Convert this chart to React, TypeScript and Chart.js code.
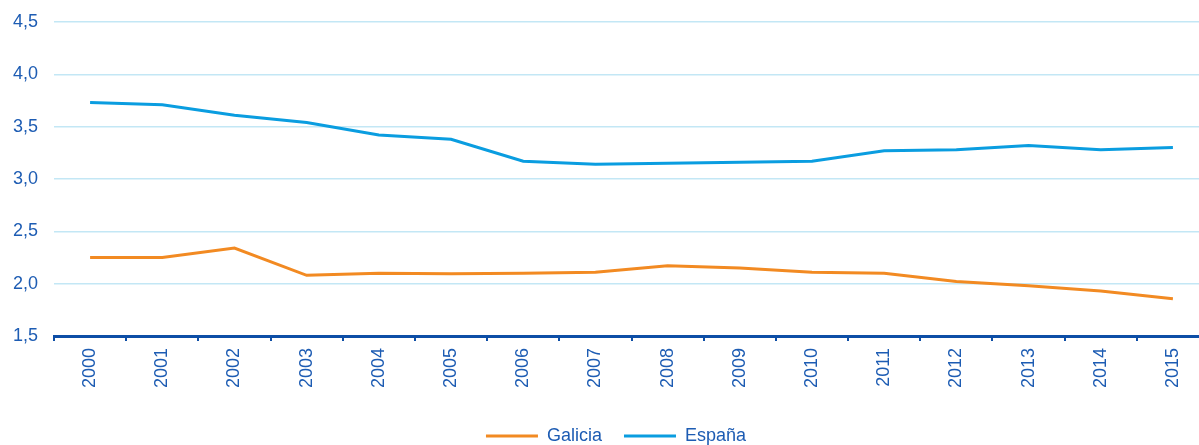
import React, { useEffect, useRef } from "react";
import { Chart, registerables } from "chart.js";

Chart.register(...registerables);

const years = ["2000","2001","2002","2003","2004","2005","2006","2007","2008","2009","2010","2011","2012","2013","2014","2015"];
const galicia = [2.25, 2.25, 2.34, 2.08, 2.10, 2.095, 2.10, 2.11, 2.17, 2.15, 2.11, 2.10, 2.02, 1.98, 1.93, 1.855];
const espana = [3.73, 3.71, 3.61, 3.54, 3.42, 3.38, 3.17, 3.14, 3.15, 3.16, 3.17, 3.27, 3.28, 3.32, 3.28, 3.30];
const yTicks = [1.5, 2.0, 2.5, 3.0, 3.5, 4.0, 4.5];

const TEXT = "#1d5cb3";
const AXIS = "#0d4ea6";
const GRID = "#c3e7f5";
const ORANGE = "#f28a22";
const BLUE = "#0a9de0";
const FONT = "'Liberation Sans', Arial, sans-serif";

export default function App() {
  const ref = useRef<HTMLCanvasElement | null>(null);
  useEffect(() => {
    if (!ref.current) return;
    const chart = new Chart(ref.current, {
      type: "line",
      data: {
        labels: years,
        datasets: [
          { label: "Galicia", data: galicia, borderColor: ORANGE, backgroundColor: ORANGE, borderWidth: 3, pointRadius: 0, tension: 0 },
          { label: "España", data: espana, borderColor: BLUE, backgroundColor: BLUE, borderWidth: 3, pointRadius: 0, tension: 0 },
        ],
      },
      options: {
        animation: false,
        responsive: true,
        maintainAspectRatio: false,
        layout: { padding: { top: 22, left: 0, right: 0, bottom: 0 } },
        plugins: {
          tooltip: { enabled: false },
          legend: {
            position: "bottom",
            labels: {
              usePointStyle: true,
              pointStyle: "line",
              pointStyleWidth: 52,
              color: TEXT,
              font: { family: FONT, size: 18 },
              padding: 22,
            },
          },
        },
        scales: {
          x: {
            type: "category",
            offset: true,
            grid: { display: true, drawOnChartArea: false, drawTicks: true, tickLength: 5, color: AXIS, lineWidth: 2, offset: true },
            border: { display: true, color: AXIS, width: 3 },
            ticks: { color: TEXT, font: { family: FONT, size: 18 }, minRotation: 90, maxRotation: 90, autoSkip: false, padding: 7 },
            afterFit: (s: any) => { s.height = 69; },
          },
          y: {
            type: "linear",
            min: 1.5,
            max: 4.5,
            afterBuildTicks: (s: any) => { s.ticks = yTicks.map((v) => ({ value: v })); },
            grid: { color: GRID, lineWidth: 1.5, drawTicks: true, tickLength: 5, tickColor: "rgba(0,0,0,0)" },
            border: { display: false },
            ticks: {
              color: TEXT,
              font: { family: FONT, size: 18 },
              padding: 11,
              callback: (v: any) => Number(v).toFixed(1).replace(".", ","),
            },
            afterFit: (s: any) => { s.width = 54; },
          },
          yPad: {
            type: "linear",
            position: "right",
            display: true,
            min: 0,
            max: 1,
            grid: { display: false, drawTicks: false },
            border: { display: false },
            ticks: { display: false },
            afterFit: (s: any) => { s.width = 23; },
          },
        },
      },
    });
    return () => chart.destroy();
  }, []);
  return (
    <div style={{ position: "fixed", left: 0, top: 0, width: 1199, height: 445, overflow: "hidden", background: "#fff" }}>
      <div style={{ position: "absolute", left: 0, top: 0, width: 1232, height: 455 }}>
        <canvas ref={ref} />
      </div>
    </div>
  );
}
